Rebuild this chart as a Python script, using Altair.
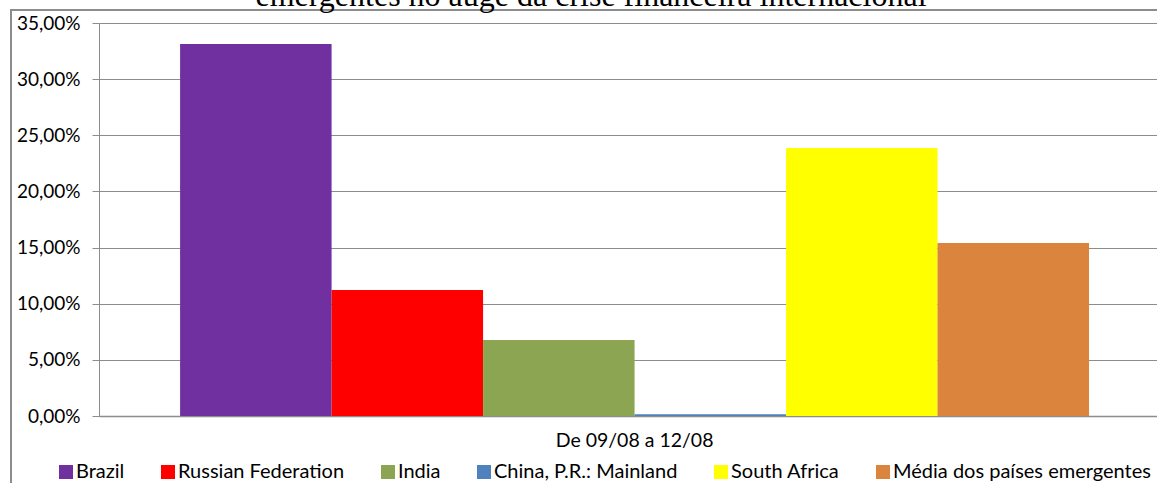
import altair as alt
import pandas as pd

# Chart data
countries = ["Brazil", "Russian Federation", "India", "China, P.R.: Mainland",
             "South Africa", "Média dos países emergentes"]
values = [0.3313, 0.1122, 0.0677, 0.0015, 0.2387, 0.1541]
period = "De 09/08 a 12/08"
colors = ["#7030A0", "#FF0000", "#8BA552", "#4F81BD", "#FFFF00", "#DB843D"]
y_ticks = [0, 0.05, 0.10, 0.15, 0.20, 0.25, 0.30, 0.35]
title_line = "emergentes no auge da crise financeira internacional"

df = pd.DataFrame({"pais": countries, "valor": values, "periodo": [period] * len(countries)})
one = pd.DataFrame({"k": [0]})

GRID = "#8c8c8c"
LABEL_FONT = "Lato"

bars = alt.Chart(df).mark_bar(strokeWidth=0).encode(
    x=alt.X(
        "periodo:N",
        title=None,
        scale=alt.Scale(paddingInner=0, paddingOuter=0.082, align=0.544),
        axis=alt.Axis(labelAngle=0, ticks=False, labelPadding=15, labelFontSize=19.5,
                      labelFont=LABEL_FONT, labelColor="black", domainColor=GRID,
                      domainWidth=1.5, grid=False),
    ),
    xOffset=alt.XOffset("pais:N", sort=countries,
                        scale=alt.Scale(paddingInner=0, paddingOuter=0)),
    y=alt.Y(
        "valor:Q",
        scale=alt.Scale(domain=[0, 0.35], nice=False),
        axis=alt.Axis(values=y_ticks, format=".2%", title=None, tickSize=7,
                      tickColor=GRID, labelPadding=12, labelFontSize=19,
                      labelFont=LABEL_FONT, labelColor="black", domainColor=GRID,
                      gridColor=GRID, gridWidth=1),
    ),
    color=alt.Color(
        "pais:N",
        sort=countries,
        scale=alt.Scale(domain=countries, range=colors),
        legend=alt.Legend(title=None, orient="none", legendX=-43, legendY=439,
                          direction="horizontal", columns=6, symbolType="square",
                          symbolSize=196, symbolStrokeWidth=0, labelOffset=0,
                          columnPadding=33, labelFontSize=20, labelFont=LABEL_FONT,
                          labelColor="black", padding=0, labelLimit=400),
    ),
)

# Outer chart frame (left and top edges)
frame_left = alt.Chart(one).mark_rule(color=GRID, strokeWidth=2).encode(
    x=alt.value(-88), y=alt.value(-13), y2=alt.value(480)
)
frame_top = alt.Chart(one).mark_rule(color=GRID, strokeWidth=2).encode(
    x=alt.value(-89), x2=alt.value(1100), y=alt.value(-13)
)

# Second line of the chart title
title_txt = alt.Chart(one).mark_text(
    font="Liberation Serif", fontSize=32, color="black",
    align="center", baseline="alphabetic"
).encode(x=alt.value(492), y=alt.value(-17), text=alt.value(title_line))

chart = alt.layer(bars, frame_left, frame_top, title_txt).properties(
    width=1058,
    height=393,
    autosize=alt.AutoSizeParams(type="none"),
    padding={"left": 99, "top": 23, "right": 0, "bottom": 67},
    background="white",
).configure(
    locale={"number": {"decimal": ",", "thousands": ".", "grouping": [3],
                       "currency": ["R$", ""]}}
).configure_view(stroke=None)

chart.save("out.html", embed_options={"renderer": "svg", "actions": False})
